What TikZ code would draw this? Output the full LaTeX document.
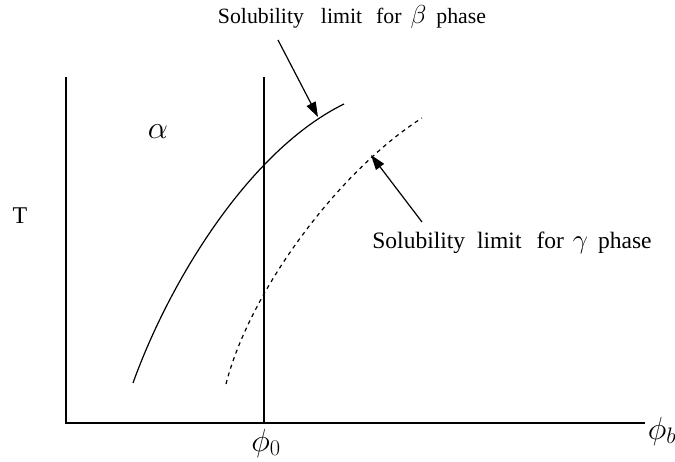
\RequirePackage{fix-cm}
\documentclass[tikz,border=0pt]{standalone}
\usepackage{fontspec}
\setmainfont{Liberation Serif}
\usetikzlibrary{arrows.meta}
\begin{document}
\begin{tikzpicture}[x=1pt,y=-1pt,
  axis/.style={line width=1.2pt},
  curve/.style={line width=1.2pt},
  dcurve/.style={line width=1.2pt,dash pattern=on 4pt off 4pt},
  pointer/.style={line width=1.2pt,-{Triangle[length=15pt,width=10pt]}},
  lbl/.style={inner sep=0pt,font=\fontsize{21.8}{25}\selectfont},
  lblb/.style={inner sep=0pt,font=\fontsize{23.5}{28}\selectfont},
  mlbl/.style={inner sep=0pt,font=\fontsize{32}{38}\selectfont}]
\useasboundingbox (0,0) rectangle (675,461);
% axes
\coordinate (o) at (66,423);
\coordinate (ytop) at (66,77);
\coordinate (xend) at (645,423);
\draw[axis] (ytop) -- (o) -- (xend);
\coordinate (p0top) at (264,77);
\coordinate (p0bot) at (264,423);
\draw[axis] (p0top) -- (p0bot);
\node[mlbl] (phib) at (662,431) {$\phi_b$};
\node[mlbl] (phi0) at (266,443) {$\phi_0$};
\node[inner sep=0pt,font=\fontsize{24}{28}\selectfont] (T) at (20,216) {T};
\node[mlbl] (alpha) at (158,132) {$\alpha$};
% solid curve
\coordinate (s0) at (133,383);
\coordinate (s1) at (344,104);
\draw[curve] (s0) .. controls (170,280) and (250,150) .. (s1);
\coordinate (btip) at (318,117);
% dashed curve
\coordinate (d0) at (226,384);
\coordinate (d1) at (422,118);
\draw[dcurve] (d0) .. controls (250,290) and (340,170) .. (d1);
\coordinate (gtip) at (371,155);
% labels
\node[lbl] (blabel) at (352,17) {Solubility\hspace{17pt}limit\hspace{14pt}for\hspace{9pt}{\fontsize{26}{30}\selectfont$\beta$}\hspace{10pt}phase};
\node[lblb] (glabel) at (512,243) {Solubility\hspace{12pt}limit\hspace{15pt}for\hspace{9pt}{\fontsize{27}{30}\selectfont$\gamma$}\hspace{10pt}phase};
\coordinate (bstart) at (278,40);
\coordinate (gstart) at (422,222);
\draw[pointer] (bstart) -- (btip);
\draw[pointer] (gstart) -- (gtip);
\end{tikzpicture}
\end{document}
